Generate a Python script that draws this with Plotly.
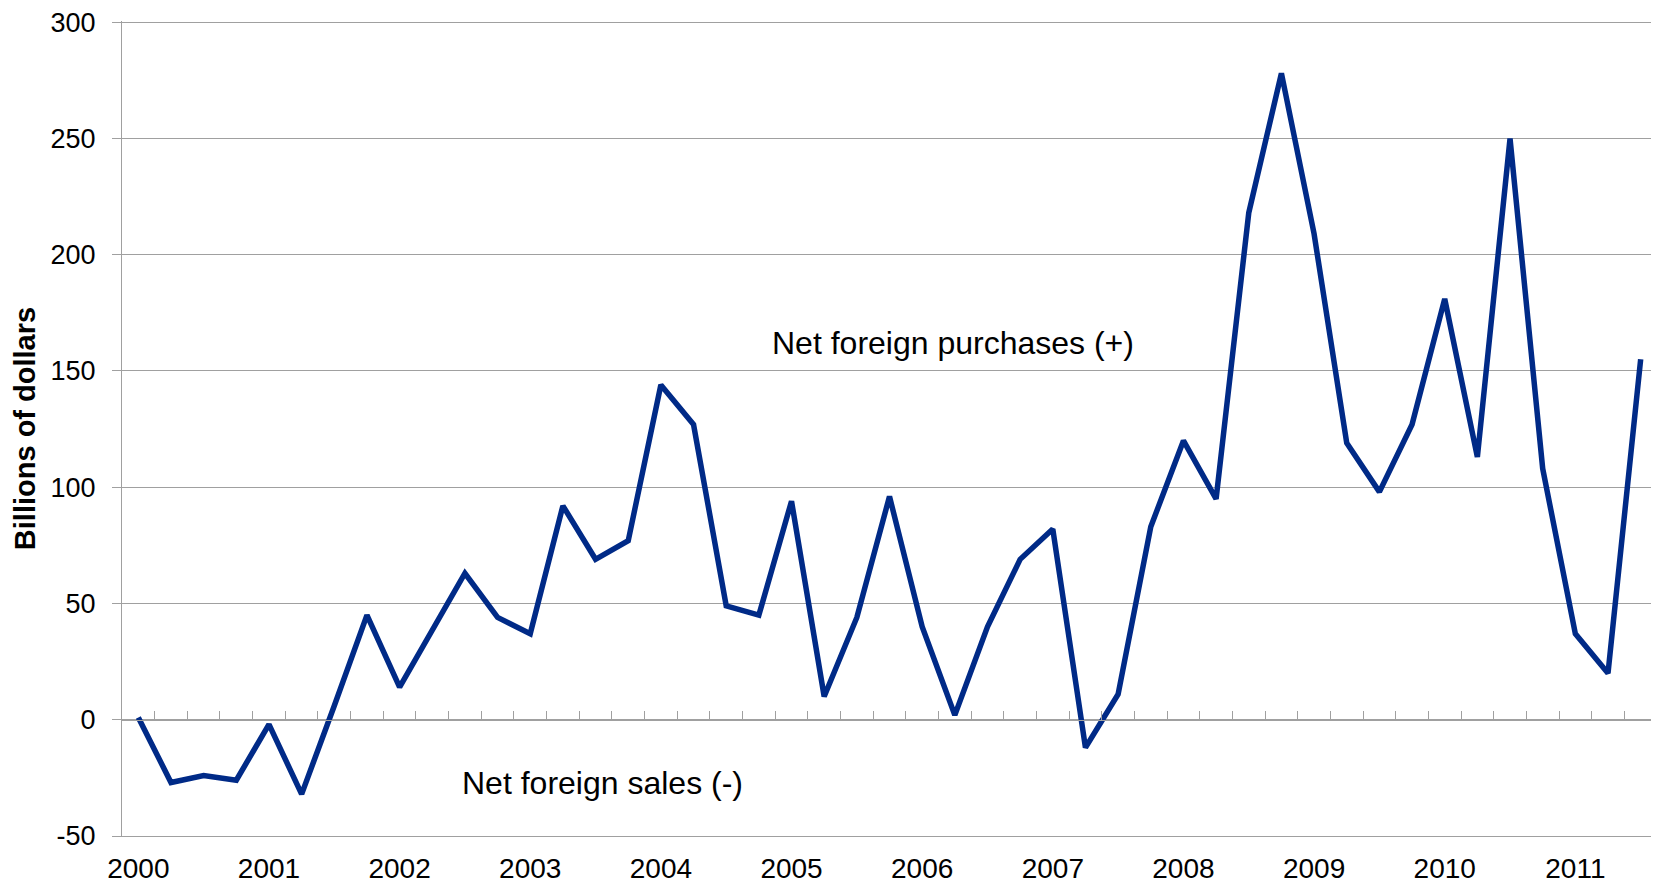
import plotly.graph_objects as go

# quarterly net foreign purchases, 2000Q1 .. 2011Q3 (billions of dollars)
quarters = [f"{y}Q{q}" for y in range(2000, 2012) for q in range(1, 5)][:47]
net_purchases = [
    1, -27, -24, -26,
    -2, -32, 6, 45,
    14, 38, 63, 44,
    37, 92, 69, 77,
    144, 127, 49, 45,
    94, 10, 44, 96,
    40, 2, 40, 69,
    82, -12, 11, 83,
    120, 95, 218, 278,
    209, 119, 98, 127,
    181, 113, 250, 108,
    37, 20, 155,
]
year_labels = [str(y) for y in range(2000, 2012)]
y_ticks = [-50, 0, 50, 100, 150, 200, 250, 300]
y_tick_text = [str(v) for v in y_ticks]  # plain hyphen for negatives

x_idx = list(range(len(quarters)))
year_pos = [i for i, q in enumerate(quarters) if q.endswith("Q1")]
boundaries = [i - 0.5 for i in range(len(quarters) + 1)]

GRID = "#a0a0a0"
FONT = "Liberation Sans, Arial, sans-serif"
Y_RANGE = [-50, 300.5]  # small headroom so the 300 gridline is not clipped at the edge

fig = go.Figure()
fig.add_trace(
    go.Scatter(
        x=x_idx,
        y=net_purchases,
        mode="lines",
        line={"color": "#002a87", "width": 5.5},
        text=quarters,
        hovertemplate="%{text}: %{y}<extra></extra>",
        showlegend=False,
    )
)

xrange = [-0.5, len(quarters) - 0.5]
# page body adds an 8px offset, so the figure is sized/margined to compensate
fig.update_layout(
    width=1651,
    height=877,
    margin={"l": 114, "r": 2, "t": 13, "b": 49},
    paper_bgcolor="white",
    plot_bgcolor="white",
    font={"family": FONT, "size": 27, "color": "black"},
    xaxis={
        "range": xrange,
        "tickvals": year_pos,
        "ticktext": year_labels,
        "tickfont": {"size": 28},
        "showgrid": False,
        "zeroline": False,
        "showline": True,
        "linecolor": GRID,
        "linewidth": 1.2,
        "ticks": "outside",
        "ticklen": 7,
        "tickcolor": "rgba(0,0,0,0)",
        "ticklabeloverflow": "allow",
        "automargin": False,
    },
    xaxis2={
        "range": xrange,
        "overlaying": "x",
        "anchor": "free",
        "position": (0 - Y_RANGE[0]) / (Y_RANGE[1] - Y_RANGE[0]),
        "tickvals": boundaries,
        "showticklabels": False,
        "ticks": "inside",
        "ticklen": 9,
        "tickcolor": GRID,
        "tickwidth": 1.2,
        "showline": True,
        "linecolor": GRID,
        "linewidth": 1.2,
        "showgrid": False,
        "zeroline": False,
        "automargin": False,
    },
    yaxis={
        "range": Y_RANGE,
        "tickvals": y_ticks,
        "ticktext": y_tick_text,
        "gridcolor": GRID,
        "gridwidth": 1.2,
        "zeroline": False,
        "showline": True,
        "linecolor": GRID,
        "linewidth": 1.2,
        "ticks": "outside",
        "ticklen": 9,
        "tickcolor": GRID,
        "tickwidth": 1.2,
        "ticklabelstandoff": 11,
        "ticklabeloverflow": "allow",
        "automargin": False,
        "title": {
            "text": "<b>Billions of dollars</b>",
            "font": {"size": 29},
            "standoff": 6,
        },
    },
    annotations=[
        {
            "x": 24.94,
            "y": 162,
            "xref": "x",
            "yref": "y",
            "text": "Net foreign purchases (+)",
            "showarrow": False,
            "font": {"size": 32},
        },
        {
            "x": 14.21,
            "y": -27,
            "xref": "x",
            "yref": "y",
            "text": "Net foreign sales (-)",
            "showarrow": False,
            "font": {"size": 32},
        },
    ],
)

# empty trace so the zero-line axis with quarter ticks is drawn
fig.add_trace(go.Scatter(x=[], y=[], xaxis="x2", showlegend=False, hoverinfo="skip"))

fig.write_html("out.html")
